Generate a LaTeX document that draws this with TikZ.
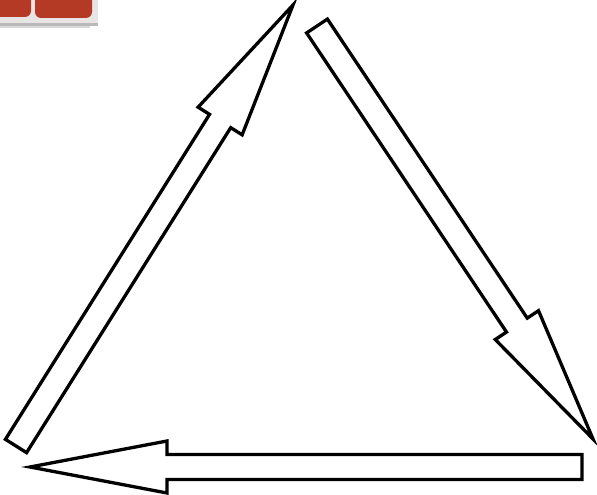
\documentclass[tikz,border=0pt]{standalone}
\usetikzlibrary{calc}
\definecolor{tabred}{HTML}{B53A26}
\definecolor{tabedge}{HTML}{E8E4E4}
\tikzset{
  arrowline/.style={draw=black, line width=3.3pt, fill=white, line join=miter},
  tabbox/.style={fill=tabred, rounded corners=6pt},
}
\newcommand\blockarrow[3]{%
  \coordinate (#3t) at (#1);
  \coordinate (#3h) at (#2);
  \coordinate (#3b) at ($(#3h)!137pt!(#3t)$);
  \draw[arrowline] ($(#3t)!12.5pt!90:(#3h)$) -- ($(#3b)!12.5pt!-90:(#3t)$)
    -- ($(#3b)!26pt!-90:(#3t)$) -- (#3h) -- ($(#3b)!26pt!90:(#3t)$)
    -- ($(#3b)!12.5pt!90:(#3t)$) -- ($(#3t)!12.5pt!-90:(#3h)$) -- cycle;
}
\begin{document}
\begin{tikzpicture}[x=1pt,y=-1pt]
\useasboundingbox (0,0) rectangle (597,495);
% top-left tabs
\fill[tabedge] (0,-5) rectangle (98,24);
\fill[gray!55] (0,23) rectangle (98,26);
\fill[gray!30] (0,26) rectangle (90,28);
\fill[tabbox] (-20,-10) rectangle (31,17);
\fill[tabbox] (35,-10) rectangle (92,18);
% arrows
\blockarrow{16,446}{293,5}{A}
\blockarrow{317,26}{593,439}{B}
\blockarrow{582,467}{30,467}{C}
\end{tikzpicture}
\end{document}
